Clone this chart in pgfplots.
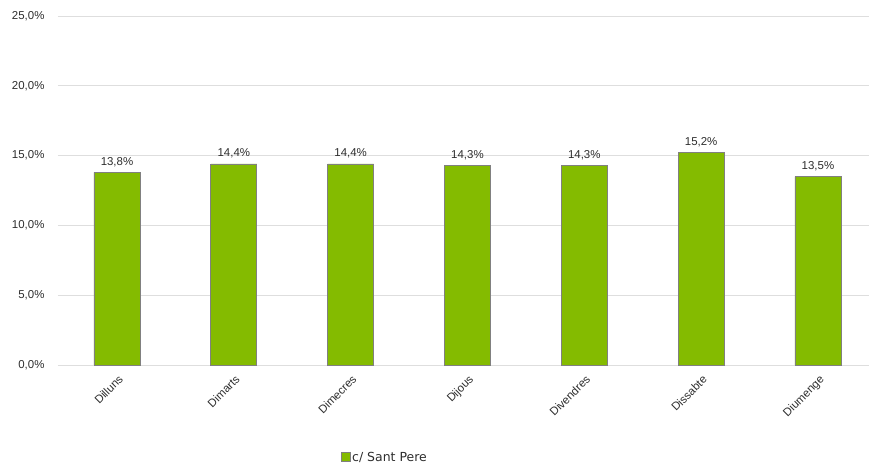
\documentclass[border=0pt]{standalone}
\usepackage{pgfplots}
\pgfplotsset{compat=1.18}
\usepackage{fontspec}
\setmainfont{Liberation Sans}
\newfontfamily\legfont{DejaVu Sans}
\definecolor{barfill}{RGB}{132,187,0}
\definecolor{bardraw}{RGB}{128,128,128}
\definecolor{gridc}{RGB}{222,222,222}
\definecolor{txt}{RGB}{45,45,45}

\begin{document}
\begin{tikzpicture}
\begin{axis}[
  scale only axis, width=811bp, height=349bp,
  ybar, bar width=46bp,
  xmin=-0.505, xmax=6.437,
  ymin=0, ymax=25,
  xtick=data,
  xticklabels={Dilluns,Dimarts,Dimecres,Dijous,Divendres,Dissabte,Diumenge},
  x tick label style={rotate=45, anchor=north east, font=\fontsize{11.5}{12}\selectfont, text=txt, inner sep=1pt, yshift=-6bp, xshift=-5bp},
  ytick={0,5,10,15,20,25},
  yticklabel={\pgfmathprintnumber{\tick}\%},
  y tick label style={font=\fontsize{11.5}{12}\selectfont, text=txt, xshift=-10bp},
  /pgf/number format/.cd, use comma, fixed, fixed zerofill, precision=1, assume math mode=true,
  /pgfplots/.cd,
  major tick length=0pt,
  ymajorgrids, grid style={gridc, line width=0.8pt},
  axis x line*=bottom, axis y line*=left,
  x axis line style={gridc, line width=0.8pt, -},
  y axis line style={draw=none},
  nodes near coords={\pgfmathprintnumber{\pgfplotspointmeta}\%},
  every node near coord/.append style={font=\fontsize{11.5}{12}\selectfont, text=txt, yshift=2bp},
  legend style={at={(rel axis cs:0.403,-0.264)}, anchor=center, draw=none, font=\legfont\fontsize{12.5}{13}\selectfont, text=txt},
  legend image code/.code={\fill[barfill, draw=bardraw, line width=0.3pt] (0bp,-4bp) rectangle (9bp,5bp);},
  clip=false,
]
\addplot[fill=barfill, draw=bardraw, line width=0.8pt] coordinates {
  (0,13.8) (1,14.4) (2,14.4) (3,14.3) (4,14.3) (5,15.2) (6,13.5)
};
\addlegendentry{c/ Sant Pere}
\coordinate (ll) at (rel axis cs:0,0);
\coordinate (ur) at (rel axis cs:1,1);
\end{axis}
\pgfresetboundingbox
\path ([shift={(-58bp,-103bp)}]ll) rectangle ([shift={(0bp,16bp)}]ur);
\end{tikzpicture}
\end{document}
